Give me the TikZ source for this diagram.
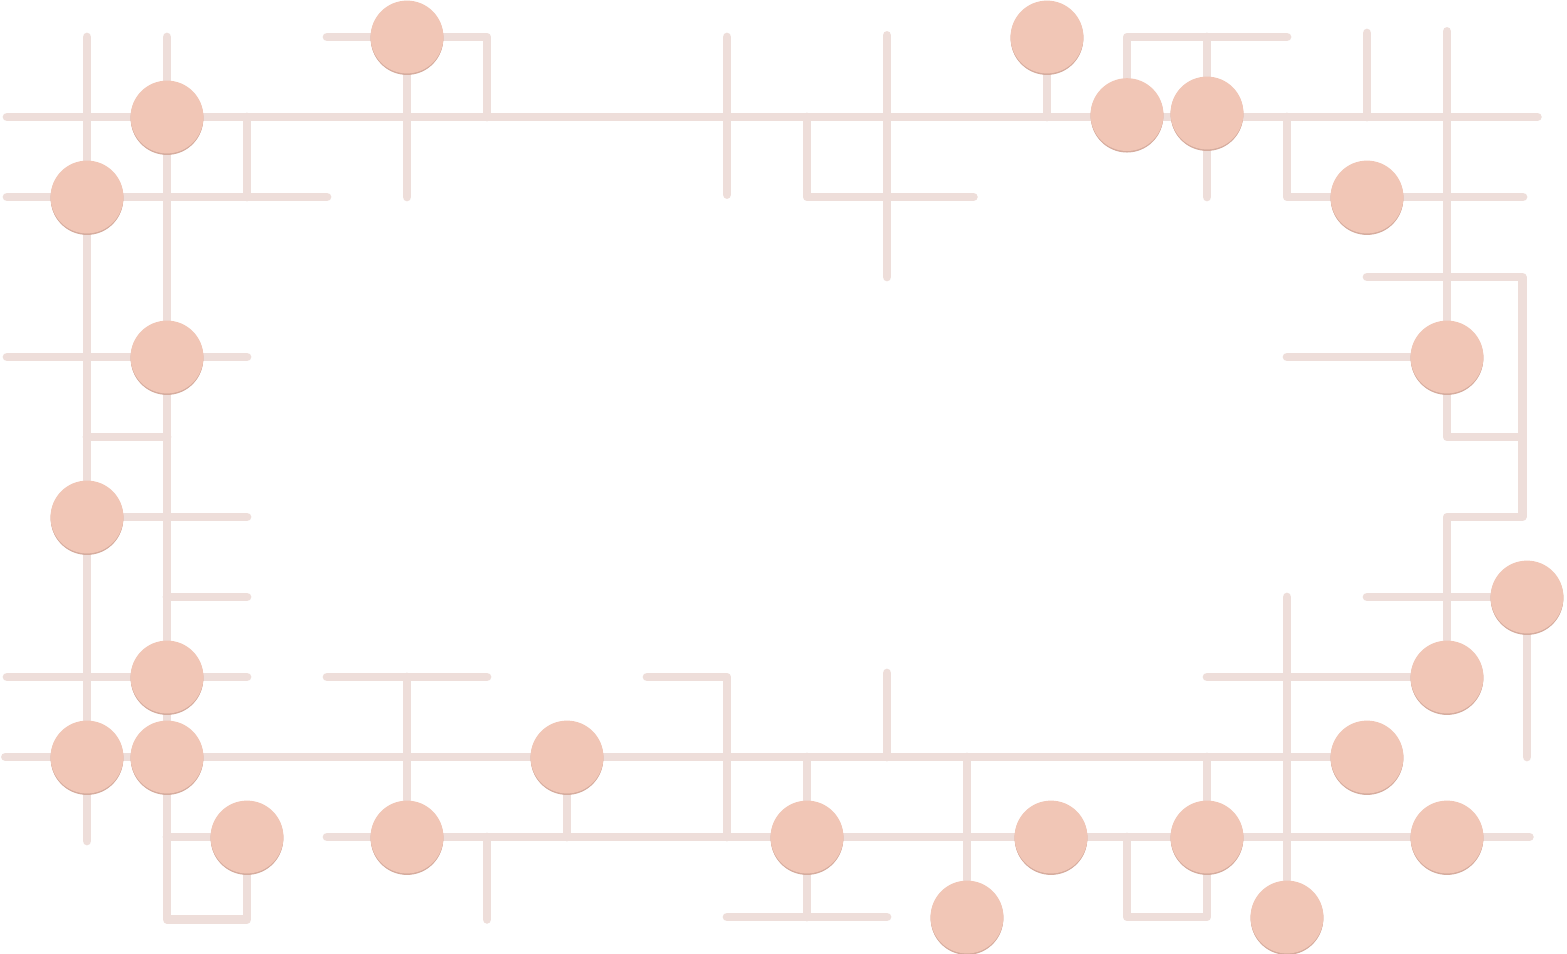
\documentclass[tikz,border=0pt]{standalone}
\usetikzlibrary{backgrounds}
\definecolor{wire}{RGB}{238,222,218}
\definecolor{padfill}{RGB}{241,198,182}
\definecolor{padrim}{RGB}{214,172,158}
\begin{document}
\begin{tikzpicture}
[x=1cm, y=-1cm,
 trace/.style={draw=wire, line width=3.1pt, line cap=round, line join=round},
 pad/.style={circle, fill=padfill, inner sep=0pt, minimum size=0.91cm}]
\useasboundingbox (-0.0875,-0.4625) rectangle (19.5,11.4625);
% pads
\foreach \px/\py [count=\n] in {2/1, 1/2, 5/0, 2/4, 1/6, 2/8, 1/9, 2/9, 3/10,
  5/10, 7/9, 10/10, 12/11, 13.05/10, 15/10, 16/11, 18/10, 17/9, 18/8, 19/7,
  18/4, 17/2, 15/0.95, 14/0.97, 13/0}{
	\fill [padrim!60!padfill] (\px,\py+0.012) circle (0.455);
	\fill [padrim] (\px,\py+0.022) circle (0.452);
	\node [pad] (pad \n) at (\px,\py) {};
}
% traces
\begin{scope}[on background layer]
\draw [trace] (0,1) -- (19.13,1);
\draw [trace] (1,0) -- (1,10.05);
\draw [trace] (2,0) -- (2,11.03) -- (3,11.03) -- (pad 9);
\draw [trace] (0,2) -- (4,2);
\draw [trace] (3,1) -- (3,2);
\draw [trace] (4,0) -- (6,0) -- (6,1);
\draw [trace] (pad 3) -- (5,2);
\draw [trace] (9,0) -- (9,1.97);
\draw [trace] (10,1) -- (10,2) -- (12.08,2);
\draw [trace] (11,-0.02) -- (11,3);
\draw [trace] (pad 25) -- (13,1);
\draw [trace] (16,0) -- (14,0) -- (pad 24);
\draw [trace] (15,0) -- (15,2);
\draw [trace] (16,1) -- (16,2) -- (18.95,2);
\draw [trace] (17,-0.05) -- (17,1);
\draw [trace] (18,-0.07) -- (18,5) -- (18.94,5);
\draw [trace] (17,3) -- (18.94,3) -- (18.94,6) -- (18,6) -- (pad 19);
\draw [trace] (16,4) -- (pad 21);
\draw [trace] (17,7) -- (pad 20) -- (19,9);
\draw [trace] (15,8) -- (pad 19);
\draw [trace] (16,7) -- (pad 16);
\draw [trace] (15,9) -- (15,11) -- (14,11) -- (14,10);
\draw [trace] (4,10) -- (19.03,10);
\draw [trace] (-0.02,9) -- (pad 18);
\draw [trace] (pad 11) -- (7,10);
\draw [trace] (4,8) -- (6,8);
\draw [trace] (5,8) -- (pad 10);
\draw [trace] (6,10) -- (6,11.03);
\draw [trace] (8,8) -- (9,8) -- (9,10);
\draw [trace] (10,9) -- (10,11);
\draw [trace] (9,11) -- (11,11);
\draw [trace] (11,7.95) -- (11,9);
\draw [trace] (12,9) -- (pad 13);
\draw [trace] (0,4) -- (3,4);
\draw [trace] (1,5) -- (2,5);
\draw [trace] (pad 5) -- (3,6);
\draw [trace] (2,7) -- (3,7);
\draw [trace] (0,8) -- (3,8);
\draw [trace] (2,10) -- (pad 9);
\end{scope}
\end{tikzpicture}
\end{document}
